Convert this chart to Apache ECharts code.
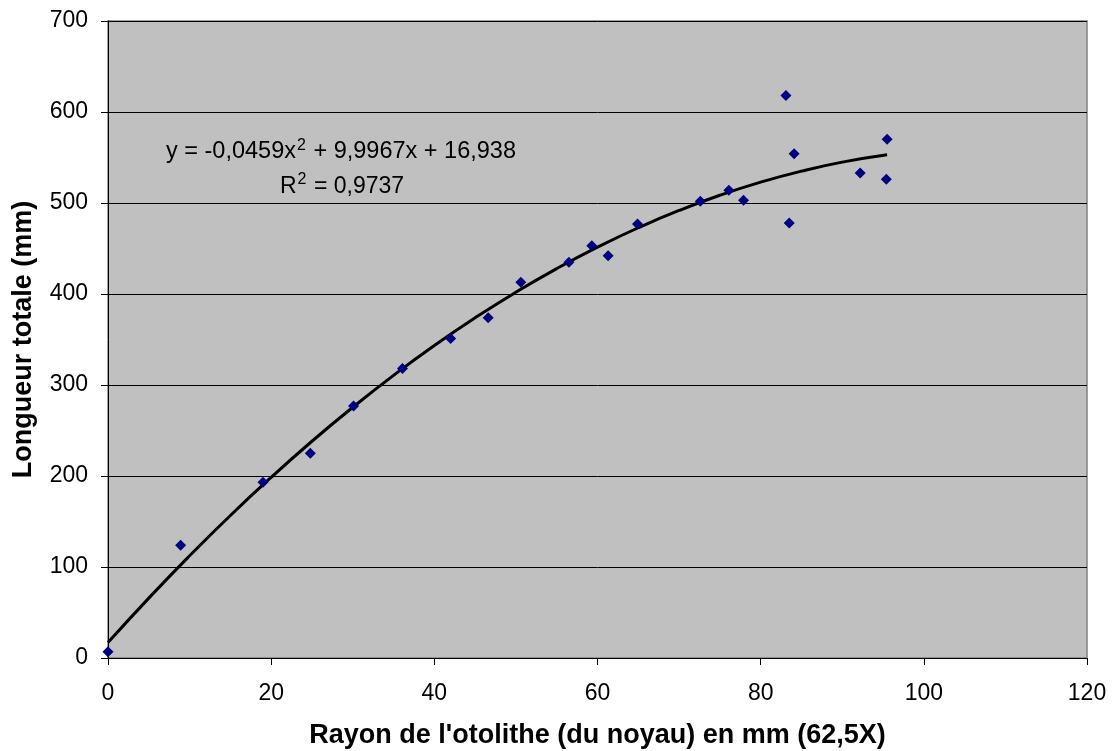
<!DOCTYPE html>
<html>
<head>
<meta charset="utf-8">
<script src="https://cdn.jsdelivr.net/npm/echarts@6/dist/echarts.min.js"></script>
<style>html,body{margin:0;padding:0;background:#fff}#c{width:1114px;height:751px}</style>
</head>
<body>
<div id="c"></div>
<script>
// Observed points: otolith radius (mm) and total length (mm)
const rayon = [0, 8.9, 19.0, 24.8, 30.1, 36.1, 42.0, 46.6, 50.6, 56.5, 59.3, 61.3, 64.9, 72.6, 76.1, 77.9, 83.1, 83.5, 84.1, 92.2, 95.4, 95.5];
const longueur = [7, 124, 193, 225, 277, 318, 351, 374, 413, 435, 453, 442, 477, 502, 514, 503, 618, 478, 554, 533, 526, 570];

// Polynomial trendline as drawn
const trendX = [0, 5, 10, 15, 20, 25, 30, 35, 40, 45, 50, 55, 60, 65, 70, 75, 80, 85, 90, 95.5];
const trendY = [16.9, 65.8, 112.3, 156.6, 198.5, 238.2, 275.5, 310.6, 343.4, 373.8, 402.0, 427.9, 451.5, 472.8, 491.8, 508.5, 522.9, 535.0, 544.9, 553.0];

const xTitle = "Rayon de l'otolithe (du noyau) en mm (62,5X)";
const yTitle = "Longueur totale (mm)";

const chart = echarts.init(document.getElementById('c'), null, {renderer: 'canvas'});
const font = "'Liberation Sans', Arial, sans-serif";
const eqRich = (fs) => ({
  n: {fontSize: fs, fontFamily: font, fill: '#000', verticalAlign: 'bottom', lineHeight: 26},
  s: {fontSize: 16, fontFamily: font, fill: '#000', verticalAlign: 'top', lineHeight: 26, padding: [0, 1, 11, 1]}
});
chart.setOption({
  animation: false,
  backgroundColor: '#ffffff',
  textStyle: {fontFamily: font},
  grid: {left: 108, right: 27, top: 21, bottom: 93, outerBoundsMode: 'none', containLabel: false,
         show: true, backgroundColor: '#c0c0c0', borderColor: '#808080', borderWidth: 1.5},
  xAxis: {
    type: 'value', min: 0, max: 120, interval: 20,
    name: xTitle, nameLocation: 'middle', nameGap: 64,
    nameTextStyle: {fontSize: 27, fontWeight: 'bold', color: '#000', fontFamily: font},
    axisLine: {show: true, onZero: false, lineStyle: {color: '#000', width: 1}},
    axisTick: {show: true, length: 7, lineStyle: {color: '#000'}},
    axisLabel: {fontSize: 23, color: '#000', margin: 24, fontFamily: font},
    splitLine: {show: false}
  },
  yAxis: {
    type: 'value', min: 0, max: 700, interval: 100,
    name: yTitle, nameLocation: 'middle', nameGap: 71,
    nameTextStyle: {fontSize: 27, fontWeight: 'bold', color: '#000', fontFamily: font},
    axisLine: {show: true, lineStyle: {color: '#000', width: 1}},
    axisTick: {show: true, length: 7, lineStyle: {color: '#000'}},
    axisLabel: {fontSize: 23, color: '#000', margin: 20, fontFamily: font},
    splitLine: {show: true, lineStyle: {color: '#000', width: 1}}
  },
  graphic: [
    {type: 'text', left: 166, top: 138, z: 100, style: {text: '{n|y = -0,0459x}{s|2}{n| + 9,9967x + 16,938}', rich: eqRich(23.5)}},
    {type: 'text', left: 280, top: 172, z: 100, style: {text: '{n|R}{s|2}{n| = 0,9737}', rich: eqRich(23)}}
  ],
  series: [
    {type: 'line', data: trendX.map((x, i) => [x, trendY[i]]), smooth: true, showSymbol: false,
     lineStyle: {color: '#000', width: 3}, z: 3},
    {type: 'scatter', data: rayon.map((x, i) => [x, longueur[i]]), symbol: 'diamond', symbolSize: 11,
     itemStyle: {color: '#000080', opacity: 1}, z: 4}
  ]
});
</script>
</body>
</html>
